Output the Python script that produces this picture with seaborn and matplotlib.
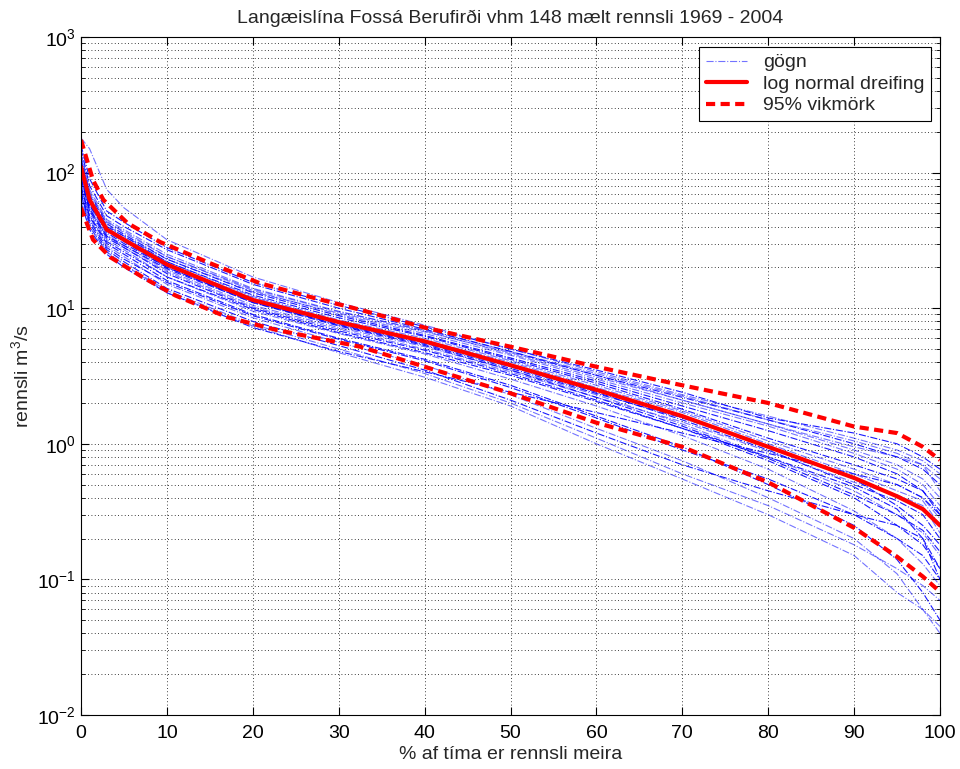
import numpy as np
import pandas as pd
import matplotlib
matplotlib.use("Agg")
import matplotlib.pyplot as plt
import seaborn as sns
from matplotlib.ticker import LogLocator

# ---------------- data ----------------
pct = [0, 1, 3, 5, 10, 20, 30, 40, 50, 60, 70, 80, 90, 95, 98, 100]

median_q = [110, 63, 38, 32, 21, 11.5, 7.9, 5.7, 3.8, 2.5, 1.6, 0.95, 0.56, 0.41, 0.33, 0.25]
upper_pct = [0, 1.4, 2.6, 5.4, 9.2, 15, 20.8, 26.7, 32.6, 40, 50, 60, 70, 80, 90, 95, 98, 100]
upper_q = [174, 88, 63, 42.5, 30.8, 21.5, 15.3, 12.1, 9.7, 7.2, 5.2, 3.7, 2.7, 2.0, 1.34, 1.2, 0.95, 0.76]
lower_pct = [0, 1.4, 3.4, 7.2, 11, 17, 22.8, 32.5, 40, 50, 60, 70, 80, 90, 95, 98, 100]
lower_q = [55, 32, 23.8, 16.9, 12.4, 8.6, 6.9, 5.2, 3.7, 2.36, 1.43, 0.95, 0.52, 0.24, 0.147, 0.105, 0.081]

q01 = [180, 150, 75, 55, 32, 17, 11, 7.5, 5.0, 3.4, 2.3, 1.6, 1.1, 0.9, 0.75, 0.6]
q02 = [150, 80, 48, 40, 27, 15, 10, 7.0, 4.8, 3.2, 2.2, 1.5, 1.0, 0.8, 0.65, 0.5]
q03 = [130, 70, 44, 36, 24, 13.5, 9.0, 6.5, 4.5, 3.0, 2.0, 1.35, 0.85, 0.65, 0.5, 0.35]
q04 = [120, 65, 40, 34, 22, 12.5, 8.5, 6.2, 4.2, 2.8, 1.8, 1.1, 0.7, 0.55, 0.45, 0.3]
q05 = [110, 60, 38, 32, 21, 12, 8.0, 5.8, 4.0, 2.6, 1.7, 1.0, 0.6, 0.45, 0.38, 0.25]
q06 = [100, 58, 36, 30, 20, 11, 7.6, 5.5, 3.7, 2.4, 1.5, 0.9, 0.5, 0.38, 0.3, 0.2]
q07 = [95, 55, 35, 29, 19, 10.5, 7.2, 5.2, 3.5, 2.3, 1.4, 0.8, 0.45, 0.3, 0.22, 0.15]
q08 = [90, 52, 33, 28, 18, 10, 6.8, 4.9, 3.3, 2.1, 1.3, 0.75, 0.4, 0.25, 0.18, 0.12]
q09 = [85, 50, 32, 27, 17, 9.5, 6.5, 4.6, 3.0, 1.9, 1.15, 0.65, 0.32, 0.2, 0.13, 0.09]
q10 = [80, 47, 30, 25, 16, 9.0, 6.0, 4.2, 2.7, 1.6, 0.95, 0.5, 0.25, 0.14, 0.08, 0.05]
q11 = [75, 45, 29, 24, 15, 8.5, 5.6, 3.8, 2.3, 1.3, 0.75, 0.4, 0.2, 0.11, 0.06, 0.04]
q12 = [70, 42, 27, 22, 14, 8.0, 5.3, 3.5, 2.1, 1.2, 0.7, 0.45, 0.3, 0.25, 0.2, 0.12]
q13 = [65, 40, 26, 21, 13.5, 7.6, 5.0, 3.3, 2.0, 1.1, 0.6, 0.35, 0.18, 0.12, 0.09, 0.07]
q14 = [60, 38, 25, 20, 13, 7.2, 4.8, 3.4, 2.4, 1.7, 1.2, 0.85, 0.6, 0.5, 0.4, 0.3]
q15 = [140, 75, 45, 38, 25, 14, 9.5, 6.8, 4.6, 3.1, 2.1, 1.4, 0.95, 0.8, 0.7, 0.55]
q16 = [125, 68, 42, 35, 23, 13, 8.8, 6.3, 4.3, 2.9, 1.9, 1.25, 0.8, 0.6, 0.45, 0.32]
q17 = [105, 62, 39, 33, 22, 12.2, 8.2, 6.0, 4.1, 2.7, 1.75, 1.05, 0.65, 0.5, 0.4, 0.28]
q18 = [98, 57, 37, 31, 20, 11.2, 7.5, 5.4, 3.6, 2.35, 1.55, 0.95, 0.55, 0.35, 0.25, 0.18]
q19 = [88, 53, 34, 28, 18.5, 10.2, 7.0, 5.0, 3.4, 2.2, 1.45, 0.88, 0.52, 0.42, 0.35, 0.22]
q20 = [78, 48, 31, 26, 17, 9.8, 6.6, 4.7, 3.2, 2.05, 1.3, 0.8, 0.48, 0.33, 0.2, 0.1]
q21 = [115, 63, 41, 34, 23, 13.2, 9.2, 6.7, 4.7, 3.2, 2.1, 1.4, 0.9, 0.7, 0.55, 0.4]
q22 = [92, 54, 34, 29, 19.5, 11, 7.4, 5.3, 3.5, 2.2, 1.35, 0.78, 0.42, 0.3, 0.23, 0.16]
q23 = [135, 72, 43, 37, 24, 13.8, 9.4, 6.9, 4.8, 3.3, 2.25, 1.5, 1.05, 0.85, 0.7, 0.45]
q24 = [72, 44, 28, 23, 15.5, 8.8, 5.9, 4.1, 2.6, 1.55, 0.9, 0.55, 0.3, 0.2, 0.15, 0.1]
q25 = [68, 40, 26, 21, 13, 7.4, 4.7, 3.1, 1.9, 1.0, 0.55, 0.3, 0.15, 0.08, 0.06, 0.045]
q26 = [160, 90, 52, 43, 28, 15.5, 10.5, 7.3, 5.0, 3.5, 2.4, 1.55, 1.2, 1.0, 0.8, 0.65]

series = [q01, q02, q03, q04, q05, q06, q07, q08, q09, q10, q11, q12, q13,
          q14, q15, q16, q17, q18, q19, q20, q21, q22, q23, q24, q25, q26]

title = "Langæislína Fossá Berufirði vhm 148 mælt rennsli 1969 - 2004"
xlabel = "% af tíma er rennsli meira"
ylabel = "rennsli m$^3$/s"
legend_labels = ["gögn", "log normal dreifing", "95% vikmörk"]
xticks = [0, 10, 20, 30, 40, 50, 60, 70, 80, 90, 100]

# ---------------- plot ----------------
sns.set_theme(style="white")
plt.rcParams["font.family"] = ["Liberation Sans", "DejaVu Sans"]
plt.rcParams["mathtext.fontset"] = "custom"
plt.rcParams["mathtext.rm"] = "Liberation Sans"
plt.rcParams["mathtext.it"] = "Liberation Sans"

fig = plt.figure(figsize=(9.6, 7.69), dpi=100)
ax = fig.add_axes([81 / 960, 54 / 769, 859 / 960, 678 / 769])

rows = []
for i, s in enumerate(series):
    for p, v in zip(pct, s):
        rows.append({"pct": p, "q": v, "yr": i})
df = pd.DataFrame(rows)

for i in range(len(series)):
    sub = df[df["yr"] == i]
    sns.lineplot(data=sub, x="pct", y="q", ax=ax, color="#0000ff", lw=0.8,
                 linestyle="-.", alpha=0.9 if i % 2 else 0.55,
                 label=legend_labels[0] if i == 0 else None, legend=False)

sns.lineplot(x=pct, y=median_q, ax=ax, color="#ff0000", lw=3.0,
             label=legend_labels[1], legend=False)
sns.lineplot(x=upper_pct, y=upper_q, ax=ax, color="#ff0000", lw=3.0,
             linestyle=(0, (2.2, 1.3)), label=legend_labels[2], legend=False)
sns.lineplot(x=lower_pct, y=lower_q, ax=ax, color="#ff0000", lw=3.0,
             linestyle=(0, (2.2, 1.3)), legend=False)

ax.set_yscale("log")
ax.set_xlim(0, 100)
ax.set_ylim(1e-2, 1e3)
ax.set_xticks(xticks)
ax.set_xticklabels([str(t) for t in xticks])
ax.yaxis.set_major_locator(LogLocator(base=10, numticks=10))
ax.yaxis.set_minor_locator(LogLocator(base=10, subs=np.arange(2, 10), numticks=20))

ax.grid(True, which="major", axis="x", color="black", linestyle=(0, (1, 3)), lw=0.6)
ax.grid(True, which="both", axis="y", color="black", linestyle=(0, (1, 3)), lw=0.6)

ax.tick_params(which="both", direction="in", top=True, right=True,
               bottom=True, left=True, colors="black", labelsize=14)
ax.tick_params(axis="x", pad=7)
ax.tick_params(which="major", length=6, width=0.8)
ax.tick_params(which="minor", length=3, width=0.6)
for sp in ax.spines.values():
    sp.set_color("black")
    sp.set_linewidth(0.8)

ax.set_title(title, fontsize=14, pad=10)
ax.set_xlabel(xlabel, fontsize=14, labelpad=3)
ax.set_ylabel(ylabel, fontsize=14, labelpad=4)

handles, labels = ax.get_legend_handles_labels()
leg = ax.legend(handles, labels, loc="upper right", bbox_to_anchor=(0.9895, 0.9853),
                borderaxespad=0.0,
                fontsize=14, frameon=True, fancybox=False, framealpha=1,
                edgecolor="black", borderpad=0.35, handlelength=2.1,
                labelspacing=0.2, handletextpad=0.8)
leg.get_frame().set_linewidth(0.8)

fig.savefig("out.png", dpi=100, facecolor="white")
